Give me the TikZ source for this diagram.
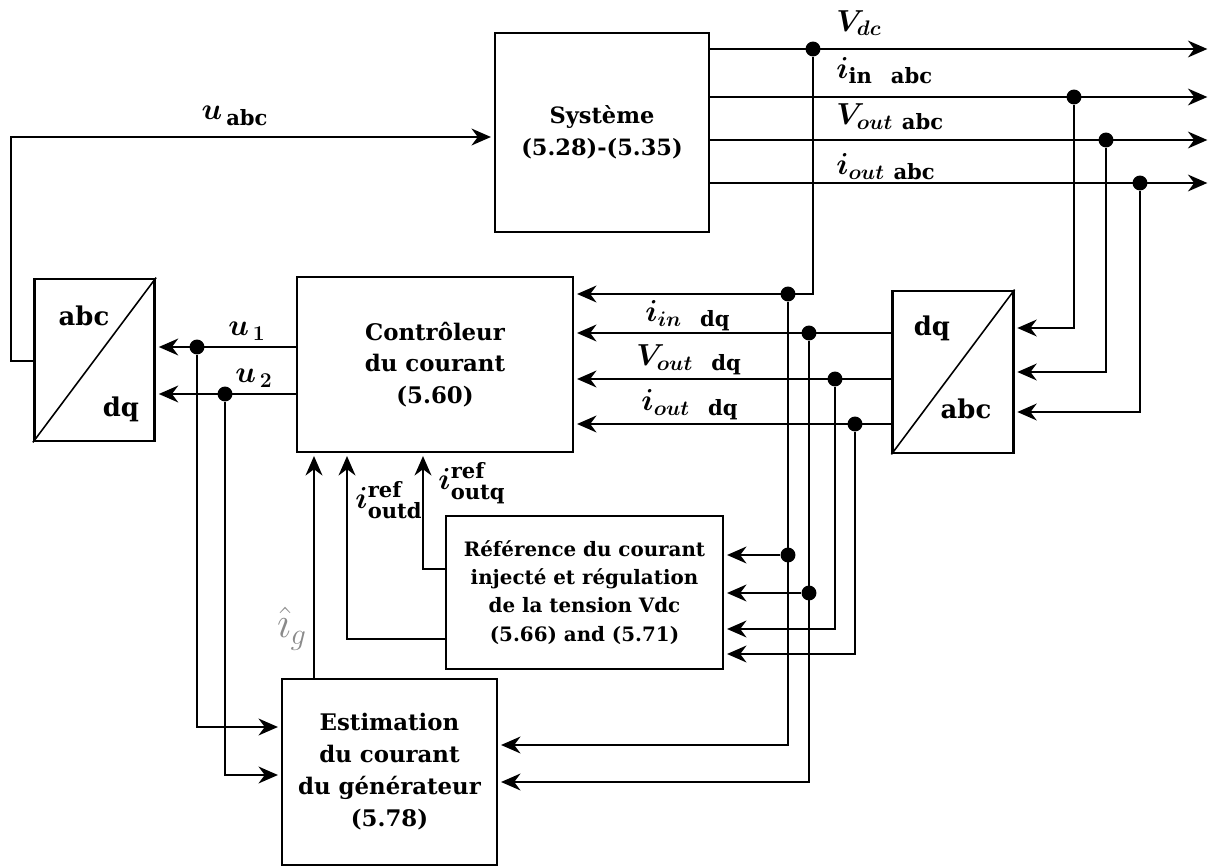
\documentclass[tikz,border=0pt]{standalone}
\usepackage{amsmath,amssymb}
\usepackage[no-math]{fontspec}
\setmainfont{DejaVu Serif}
\usepackage{xcolor}
\usetikzlibrary{arrows.meta,positioning,calc}
\definecolor{Ink}{HTML}{000000}
\definecolor{HatGray}{HTML}{8A8A8A}
\DeclareMathSizes{17}{17}{12}{9}
\newcommand{\upb}[1]{\text{\bfseries #1}}

\begin{document}
\begin{tikzpicture}[x=0.02cm,y=-0.02cm,
    block/.style={rectangle,draw=Ink,line width=1.6pt,fill=white,align=center,inner sep=0pt,font=\fontsize{12.8}{18.4}\selectfont\bfseries},
    conv/.style={rectangle,draw=Ink,line width=1.6pt,fill=white,inner sep=0pt,minimum width=2.41cm,minimum height=3.24cm},
    convlabel/.style={font=\fontsize{14.7}{17}\selectfont\bfseries,inner sep=0pt},
    arrow/.style={-{Stealth[length=11pt,width=9.5pt,inset=3.5pt]},line width=1.6pt,draw=Ink,shorten >=1.5pt},
    diag/.style={line width=0.9pt,draw=Ink},
    dot/.style={circle,fill=Ink,inner sep=0pt,minimum size=8.5pt},
    sig/.style={font=\fontsize{17}{20}\selectfont\boldmath,inner sep=0pt}
]
\useasboundingbox (0,0) rectangle (1215,868);

% blocks
\node[block,minimum width=4.28cm,minimum height=3.98cm] (sys) at (602,132.5) {Système\\(5.28)-(5.35)};
\node[block,minimum width=5.52cm,minimum height=3.5cm,font=\fontsize{13}{17.9}\selectfont\bfseries] (ctrl) at (435,364.5) {Contrôleur\\du courant\\(5.60)};
\node[block,minimum width=5.54cm,minimum height=3.06cm,font=\fontsize{11.3}{16}\selectfont\bfseries] (ref) at (584.5,592.5) {Référence du courant\\injecté et régulation\\de la tension Vdc\\(5.66) and (5.71)};
\node[block,minimum width=4.3cm,minimum height=3.72cm,font=\fontsize{13}{18.2}\selectfont\bfseries] (est) at (389.5,772) {Estimation\\du courant\\du générateur\\(5.78)};

% converters
\node[conv] (abcdq) at (94.5,360) {};
\draw[diag] (abcdq.south west) -- (abcdq.north east);
\node[convlabel] (abcdqTop) at (84,316) {abc};
\node[convlabel] (abcdqBot) at (121,409) {dq};
\node[conv] (dqabc) at (953,372) {};
\draw[diag] (dqabc.south west) -- (dqabc.north east);
\node[convlabel] (dqabcTop) at (932,328) {dq};
\node[convlabel] (dqabcBot) at (966,409) {abc};

% junctions
\node[dot] (jVdc) at (813,49) {};
\node[dot] (jIin) at (1074,97) {};
\node[dot] (jVout) at (1106,140) {};
\node[dot] (jIout) at (1140,183) {};
\node[dot] (jVdcDq) at (788,294) {};
\node[dot] (jIinDq) at (809,333) {};
\node[dot] (jVoutDq) at (835,379) {};
\node[dot] (jIoutDq) at (855,424) {};
\node[dot] (jU1) at (197,347) {};
\node[dot] (jU2) at (225,394) {};
\node[dot] (jRef1) at (788,555) {};
\node[dot] (jRef2) at (809,593) {};

% free ends and corners
\coordinate (oVdc) at (1210,49);
\coordinate (oIin) at (1210,97);
\coordinate (oVout) at (1210,140);
\coordinate (oIout) at (1210,183);
\coordinate (kUa) at (11,361);
\coordinate (kUb) at (11,137);
\coordinate (kIin) at (1074,328);
\coordinate (kVout) at (1106,372);
\coordinate (kIout) at (1140,412);
\coordinate (kVdc) at (813,294);
\coordinate (kU1) at (197,727);
\coordinate (kU2) at (225,775);
\coordinate (kE1) at (788,745);
\coordinate (kE2) at (809,782);
\coordinate (kR3) at (835,629);
\coordinate (kR4) at (855,654);
\coordinate (kG) at (314,600);
\coordinate (kD) at (347,639);
\coordinate (kQ) at (423,569);

% feedback u_abc
\draw[arrow] (kUa -| abcdq.west) -- (kUa) -- (kUb) -- (kUb -| sys.west);
\node[sig] (lUabc) at (235,116) {$u_{\,\upb{abc}}$};

% system outputs
\draw[arrow] (jVdc -| sys.east) -- (oVdc);
\draw[arrow] (jIin -| sys.east) -- (oIin);
\draw[arrow] (jVout -| sys.east) -- (oVout);
\draw[arrow] (jIout -| sys.east) -- (oIout);
\node[sig,anchor=west] (lVdc) at (836,23) {$V_{dc}$};
\node[sig,anchor=west] (lIin) at (836,71) {$i_{\upb{in}\ \ \upb{abc}}$};
\node[sig,anchor=west] (lVout) at (836,117) {$V_{out\ \upb{abc}}$};
\node[sig,anchor=west] (lIout) at (836,167) {$i_{out\ \upb{abc}}$};

% abc -> dq
\draw[arrow] (jIin) -- (kIin) -- (kIin -| dqabc.east);
\draw[arrow] (jVout) -- (kVout) -- (kVout -| dqabc.east);
\draw[arrow] (jIout) -- (kIout) -- (kIout -| dqabc.east);

% dq measurements to the controller
\draw[arrow] (jVdc) -- (kVdc) -- (kVdc -| ctrl.east);
\draw[arrow] (jIinDq -| dqabc.west) -- (jIinDq -| ctrl.east);
\draw[arrow] (jVoutDq -| dqabc.west) -- (jVoutDq -| ctrl.east);
\draw[arrow] (jIoutDq -| dqabc.west) -- (jIoutDq -| ctrl.east);
\node[sig] (lIinDq) at (688,316) {$i_{in\ \ \upb{dq}}$};
\node[sig] (lVoutDq) at (689,360) {$V_{out\ \ \upb{dq}}$};
\node[sig] (lIoutDq) at (690,405) {$i_{out\ \ \upb{dq}}$};

% controller outputs
\draw[arrow] (jU1 -| ctrl.west) -- (jU1 -| abcdq.east);
\draw[arrow] (jU2 -| ctrl.west) -- (jU2 -| abcdq.east);
\node[sig] (lU1) at (247,331) {$u_{\,1}$};
\node[sig] (lU2) at (254,378) {$u_{\,2}$};
\draw[arrow] (jU1) -- (kU1) -- (kU1 -| est.west);
\draw[arrow] (jU2) -- (kU2) -- (kU2 -| est.west);

% taps to the estimator and the reference
\draw[arrow] (jVdcDq) -- (kE1) -- (kE1 -| est.east);
\draw[arrow] (jIinDq) -- (kE2) -- (kE2 -| est.east);
\draw[arrow] (jRef1) -- (jRef1 -| ref.east);
\draw[arrow] (jRef2) -- (jRef2 -| ref.east);
\draw[arrow] (jVoutDq) -- (kR3) -- (kR3 -| ref.east);
\draw[arrow] (jIoutDq) -- (kR4) -- (kR4 -| ref.east);

% feedback into the controller
\draw[arrow] (kG |- est.north) -- (kG |- ctrl.south);
\node[font=\fontsize{23}{25}\selectfont,text=HatGray,inner sep=0pt] (lIg) at (292,629) {$\hat{\imath}_{g}$};
\draw[arrow] (kD -| ref.west) -- (kD) -- (kD |- ctrl.south);
\draw[arrow] (kQ -| ref.west) -- (kQ) -- (kQ |- ctrl.south);
\node[sig] (lIdRef) at (389,500) {$i^{\upb{ref}}_{\upb{outd}}$};
\node[sig] (lIqRef) at (472,483) {$i^{\upb{ref}}_{\upb{outq}}$};
\end{tikzpicture}
\end{document}
